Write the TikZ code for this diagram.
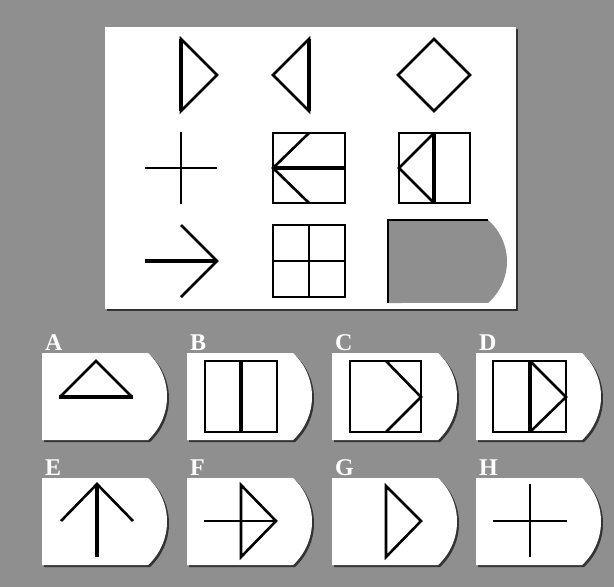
\documentclass[tikz,border=0pt]{standalone}
\usepackage{fontspec}
\setmainfont{Liberation Serif}
\usepackage{tikz}
\usetikzlibrary{positioning}

\definecolor{backdrop}{RGB}{143,143,143}

\begin{document}
\begin{tikzpicture}[
    x=1pt, y=-1pt,
    stroke/.style={draw=black, line width=2.6pt},
    heavy/.style={draw=black, line width=3.8pt},
    shade/.style={fill=black!80},
    tag/.style={anchor=base west, inner sep=0pt, text=white, font=\fontsize{24}{24}\selectfont\bfseries}
]
    % Backdrop
    \fill[backdrop] (0,0) rectangle (614,587);
    \useasboundingbox (0,0) rectangle (614,587);

    % Question board
    \fill[shade] (107,29) rectangle (518,311);
    \fill[white] (105,27) rectangle (516,309);

    % Row 1
    \begin{scope}[shift={(181,75)}]
        \draw[stroke] (0,-36) -- (36,0) -- (0,36) -- cycle;
        \draw[heavy] (0,-36) -- (0,36);
    \end{scope}
    \begin{scope}[shift={(309,75)}]
        \draw[stroke] (0,-36) -- (-36,0) -- (0,36) -- cycle;
        \draw[heavy] (0,-36) -- (0,36);
    \end{scope}
    \begin{scope}[shift={(434,75)}]
        \draw[stroke] (0,-36) -- (36,0) -- (0,36) -- (-36,0) -- cycle;
    \end{scope}

    % Row 2
    \begin{scope}[shift={(181,168)}]
        \draw[stroke, line width=2.2pt] (-36,0) -- (36,0) (0,-36) -- (0,36);
    \end{scope}
    \begin{scope}[shift={(309,168)}]
        \draw[stroke] (-36,-35) rectangle (36,35);
        \draw[stroke] (0,-35) -- (-36,0) -- (0,35);
        \draw[heavy] (-36,0) -- (36,0);
    \end{scope}
    \begin{scope}[shift={(434,168)}]
        \draw[stroke] (-35,-35) rectangle (36,35);
        \draw[stroke] (0,-35) -- (-35,0) -- (0,35);
        \draw[heavy] (0,-35) -- (0,35);
    \end{scope}

    % Row 3
    \begin{scope}[shift={(181,261)}]
        \draw[stroke] (0,-36) -- (36,0) -- (0,36);
        \draw[heavy] (-36,0) -- (36,0);
    \end{scope}
    \begin{scope}[shift={(309,261)}]
        \draw[stroke] (-36,-36) rectangle (36,36);
        \draw[stroke] (-36,0) -- (36,0) (0,-36) -- (0,36);
    \end{scope}

    % Missing piece
    \fill[backdrop] (388,220) -- (488,220) arc[start angle=-49.2, end angle=49.2, radius=54.8] -- (388,303) -- cycle;
    \draw[black, line width=1.6pt] (388,303) -- (388,220) -- (488,220);

    % Answer cards
    \foreach \lab/\cx/\cy in {A/42/353, B/187/353, C/332/353, D/476/353, E/42/478, F/187/478, G/332/478, H/476/478} {
        \fill[shade] (\cx+2,\cy+2) -- ++(106,0) arc[start angle=-47.2, end angle=47.2, radius=59.3] -- ++(-106,0) -- cycle;
        \fill[white] (\cx,\cy) -- ++(106,0) arc[start angle=-47.2, end angle=47.2, radius=59.3] -- ++(-106,0) -- cycle;
        \node[tag] (tag\lab) at (\cx+3,\cy-3) {\lab};
    }

    % A
    \begin{scope}[shift={(96,397)}]
        \draw[stroke] (-36,0) -- (0,-36) -- (36,0);
        \draw[heavy] (-37,0) -- (37,0);
    \end{scope}
    % B
    \begin{scope}[shift={(241,397)}]
        \draw[stroke] (-36,-36) rectangle (36,35);
        \draw[heavy] (0,-36) -- (0,35);
    \end{scope}
    % C
    \begin{scope}[shift={(386,397)}]
        \draw[stroke] (-36,-36) rectangle (35,35);
        \draw[stroke] (0,-36) -- (35,0) -- (0,35);
    \end{scope}
    % D
    \begin{scope}[shift={(530,397)}]
        \draw[stroke] (-37,-36) rectangle (36,35);
        \draw[stroke] (0,-36) -- (36,0) -- (0,35);
        \draw[heavy] (0,-36) -- (0,35);
    \end{scope}
    % E
    \begin{scope}[shift={(97,521)}]
        \draw[stroke] (-36,0) -- (0,-37) -- (36,0);
        \draw[heavy] (0,-37) -- (0,36);
    \end{scope}
    % F
    \begin{scope}[shift={(241,521)}]
        \draw[stroke] (0,-36) -- (35,0) -- (0,36) -- cycle;
        \draw[stroke] (-37,0) -- (35,0);
    \end{scope}
    % G
    \begin{scope}[shift={(386,521)}]
        \draw[stroke] (0,-35) -- (35,0) -- (0,36) -- cycle;
    \end{scope}
    % H
    \begin{scope}[shift={(530,521)}]
        \draw[stroke] (-37,0) -- (37,0) (0,-37) -- (0,36);
    \end{scope}

\end{tikzpicture}
\end{document}
